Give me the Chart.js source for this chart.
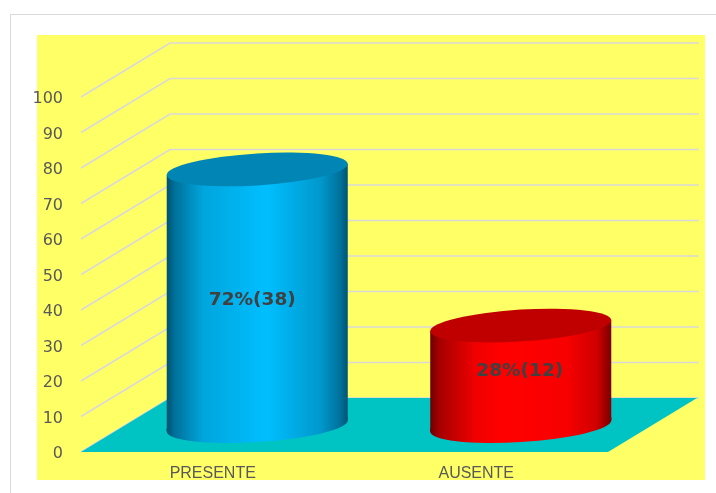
<!DOCTYPE html>
<html>
<head>
<meta charset="utf-8">
<style>html,body{margin:0;padding:0;background:#fff}#w{width:716px;height:493px;position:relative}</style>
<script src="https://cdn.jsdelivr.net/npm/chart.js@4"></script>
</head>
<body>
<div id="w"><canvas id="c" width="716" height="493"></canvas></div>
<script>
const categories = ['PRESENTE', 'AUSENTE'];
const percentValues = [72, 28];
const countValues = [38, 12];
const yTickStep = 10;
const yMax = 100;

const depthX = 89, depthY = -54;
const BAR_PCT = 0.687;
const SHEAR = -0.0608;
const CAP_RY = 16;
const sideStops = [
  [[0,'#00506f'],[0.04,'#006f98'],[0.2,'#00a5dc'],[0.55,'#00bfff'],[0.85,'#0098cc'],[0.96,'#00709a'],[1,'#005472']],
  [[0,'#6e0000'],[0.05,'#a50000'],[0.25,'#f00000'],[0.4,'#ff0000'],[0.75,'#f80000'],[0.92,'#d00000'],[1,'#7a0000']]
];
const capColors = ['#0085B5', '#C00000'];
const labelNudge = [[-5, 3], [-1, -4]];

function sideGradient(ctx) {
  const chart = ctx.chart, sx = chart.scales.x;
  const i = ctx.dataIndex;
  if (i === undefined || !sx) return capColors[0];
  const cx = sx.getPixelForValue(i);
  const half = (sx.width / categories.length) * BAR_PCT / 2;
  if (!Number.isFinite(cx) || !Number.isFinite(half) || half <= 0) return capColors[i];
  const g = chart.ctx.createLinearGradient(cx - half, 0, cx + half, 0);
  sideStops[i].forEach(s => g.addColorStop(s[0], s[1]));
  return g;
}

function shearAround(c, cx) {
  c.transform(1, SHEAR, 0, 1, 0, -SHEAR * cx);
}

const scene = {
  id: 'scene',
  beforeDraw(chart) {
    const c = chart.ctx;
    c.save();
    c.fillStyle = '#fff';
    c.fillRect(0, 0, chart.width, chart.height);
    c.fillStyle = '#D9D9D9';
    c.fillRect(10, 14, 1, 479);
    c.fillRect(10, 14, 706, 1);
    c.fillStyle = '#FFFF66';
    c.fillRect(37, 35, 668, 445);
    c.restore();
  },
  beforeDatasetsDraw(chart) {
    const c = chart.ctx, a = chart.chartArea, sy = chart.scales.y;
    c.save();
    c.strokeStyle = '#D9D9D9';
    c.lineWidth = 1.7;
    sy.ticks.forEach(t => {
      const y = sy.getPixelForValue(t.value);
      c.beginPath();
      c.moveTo(a.left, y);
      c.lineTo(a.left + depthX, y + depthY);
      c.lineTo(a.right + depthX + 2, y + depthY);
      c.stroke();
    });
    const y0 = sy.getPixelForValue(0);
    c.fillStyle = '#00C3C3';
    c.beginPath();
    c.moveTo(a.left, y0);
    c.lineTo(a.left + depthX, y0 + depthY);
    c.lineTo(a.right + depthX, y0 + depthY);
    c.lineTo(a.right, y0);
    c.closePath();
    c.fill();
    c.restore();

    c.save();
    c.translate(depthX / 2, depthY / 2);
    chart.getDatasetMeta(0).data.forEach(b => {
      c.save();
      shearAround(c, b.x);
      c.fillStyle = b.options.backgroundColor;
      c.beginPath();
      c.ellipse(b.x, b.base + 1, b.width / 2, CAP_RY, 0, 0, Math.PI * 2);
      c.rect(b.x - b.width / 2, b.base - 2, b.width, 3);
      c.fill('nonzero');
      c.fillRect(b.x - b.width / 2, b.base - 2, b.width, 3);
      c.restore();
      if (!b.__sheared) {
        b.__sheared = true;
        const drawBar = b.draw;
        b.draw = function (ctx, area) {
          ctx.save();
          shearAround(ctx, this.x);
          drawBar.call(this, ctx, area);
          ctx.restore();
        };
      }
    });
  },
  afterDatasetsDraw(chart) {
    const c = chart.ctx;
    chart.getDatasetMeta(0).data.forEach((b, i) => {
      c.save();
      shearAround(c, b.x);
      c.fillStyle = capColors[i];
      c.beginPath();
      c.ellipse(b.x, b.y, b.width / 2, CAP_RY, 0, 0, Math.PI * 2);
      c.fill();
      c.restore();
    });
    c.fillStyle = '#404040';
    c.font = 'bold 18.5px "DejaVu Sans"';
    c.textAlign = 'center';
    c.textBaseline = 'middle';
    chart.getDatasetMeta(0).data.forEach((b, i) => {
      c.fillText(percentValues[i] + '%(' + countValues[i] + ')',
        b.x + labelNudge[i][0], (b.y + b.base) / 2 + labelNudge[i][1]);
    });
    c.restore();
  }
};

new Chart(document.getElementById('c'), {
  type: 'bar',
  data: {
    labels: categories,
    datasets: [{
      data: percentValues,
      backgroundColor: sideGradient,
      borderWidth: 0,
      barPercentage: BAR_PCT,
      categoryPercentage: 1,
      clip: false
    }]
  },
  options: {
    responsive: false,
    animation: false,
    devicePixelRatio: 1,
    layout: { padding: { left: 0, right: 108, top: 97, bottom: 0 } },
    plugins: { legend: { display: false }, tooltip: { enabled: false }, title: { display: false } },
    scales: {
      x: {
        grid: { display: false },
        border: { display: false },
        afterFit: s => { s.height = 41; },
        ticks: { color: '#595959', font: { family: 'Liberation Sans', size: 16 }, padding: 4, maxRotation: 0 }
      },
      y: {
        min: 0,
        max: yMax,
        grid: { display: false },
        border: { display: false },
        afterFit: s => {
          s.width = 81;
          if (!s.__nudged) {
            s.__nudged = true;
            const drawLabels = s.drawLabels;
            s.drawLabels = function (area) {
              const c = this.ctx;
              c.save();
              c.translate(0, 2);
              drawLabels.call(this, area);
              c.restore();
            };
          }
        },
        ticks: { stepSize: yTickStep, color: '#595959', font: { family: 'DejaVu Sans', size: 16 }, padding: 10 }
      }
    }
  },
  plugins: [scene]
});
</script>
</body>
</html>
